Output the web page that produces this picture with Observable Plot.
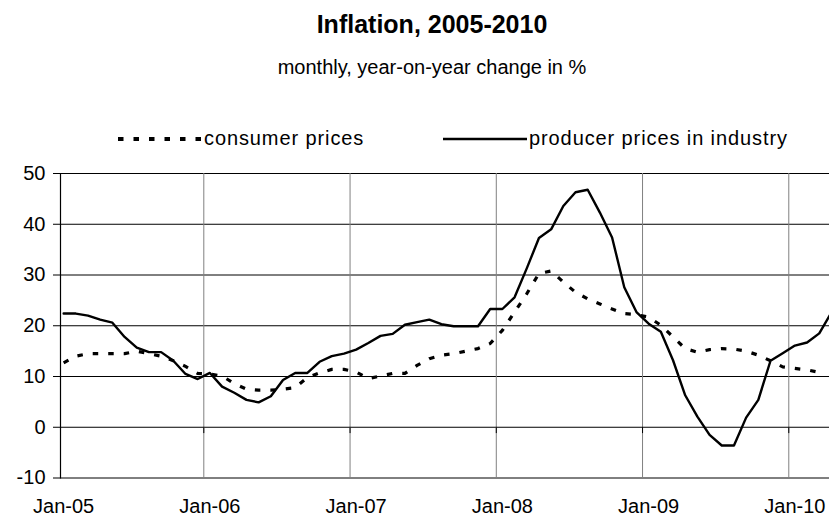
<!DOCTYPE html>
<html>
<head>
<meta charset="utf-8">
<script src="https://cdn.jsdelivr.net/npm/d3@7"></script>
<script src="https://cdn.jsdelivr.net/npm/@observablehq/plot@0.6"></script>
<style>
  html, body { margin: 0; padding: 0; background: #fff; }
  #wrap { position: relative; width: 829px; height: 518px; overflow: hidden; font-family: "Liberation Sans", Arial, sans-serif; color: #000; }
  .t { position: absolute; white-space: nowrap; line-height: 1; }
  #title { font-weight: bold; font-size: 25px; left: 432px; top: 12px; transform: translateX(-50%); }
  #subtitle { font-size: 20px; left: 432px; top: 57px; transform: translateX(-50%); }
  .leg { font-size: 20px; letter-spacing: 0.9px; top: 128px; }
  .sw { position: absolute; top: 133px; }
  #chart { position: absolute; left: 0; top: 150px; }
</style>
</head>
<body>
<div id="wrap">
  <div id="title" class="t">Inflation, 2005-2010</div>
  <div id="subtitle" class="t">monthly, year-on-year change in %</div>
  <svg class="sw" style="left:118px" width="86" height="12"><line x1="0" y1="6" x2="86" y2="6" stroke="#000" stroke-width="4" stroke-dasharray="5.5,10"/></svg>
  <div class="t leg" style="left:204px">consumer prices</div>
  <svg class="sw" style="left:443px" width="84" height="12"><line x1="0" y1="6" x2="84" y2="6" stroke="#000" stroke-width="2.5"/></svg>
  <div class="t leg" style="left:529px">producer prices in industry</div>
  <div id="chart"></div>
</div>
<script>
// Category-axis labels (one per January)
const yearLabels = ["Jan-05", "Jan-06", "Jan-07", "Jan-08", "Jan-09", "Jan-10"];
const yTicks = [-10, 0, 10, 20, 30, 40, 50];

// Consumer prices, year-on-year % (Jan-05 .. Mar-10)
const consumerPrices = [
  12.7, 14.0, 14.5, 14.5, 14.5, 14.5, 15.0, 14.5, 14.0, 13.1, 12.0, 10.6,
  10.5, 10.1, 8.6, 7.5, 7.3, 7.3, 7.5, 7.8, 9.8, 10.7, 11.4, 11.4,
  10.9, 9.6, 10.1, 10.6, 10.6, 12.2, 13.5, 14.2, 14.5, 15.0, 15.5, 16.5,
  19.1, 22.7, 26.3, 30.3, 30.8, 28.6, 26.6, 25.3, 24.3, 23.3, 22.4, 22.2,
  21.7, 20.1, 17.8, 15.5, 14.8, 15.3, 15.5, 15.4, 15.0, 14.2, 13.1, 11.9,
  11.6, 11.3, 10.8
];

// Producer prices in industry, year-on-year % (Jan-05 .. Apr-10)
const producerPrices = [
  22.4, 22.4, 22.0, 21.2, 20.6, 17.8, 15.7, 14.8, 14.8, 13.1, 10.5, 9.5,
  10.7, 8.0, 6.8, 5.4, 4.9, 6.1, 9.3, 10.7, 10.7, 12.9, 14.0, 14.5,
  15.3, 16.6, 18.0, 18.4, 20.2, 20.7, 21.2, 20.3, 19.9, 19.9, 19.9, 23.3,
  23.3, 25.6, 31.3, 37.3, 39.0, 43.6, 46.3, 46.8, 42.3, 37.4, 27.6, 22.7,
  20.4, 18.8, 13.2, 6.3, 2.1, -1.5, -3.6, -3.6, 1.9, 5.4, 13.1, 14.6,
  16.1, 16.7, 18.5, 22.6
];

const cpi = consumerPrices.map((v, i) => ({i, v}));
const ppi = producerPrices.map((v, i) => ({i, v}));
const labelIdx = yearLabels.map((d, k) => k * 12);
const gridIdx = [11.5, 23.5, 35.5, 47.5, 59.5];

const chart = Plot.plot({
  width: 829,
  height: 368,
  marginLeft: 60,
  marginRight: 0,
  marginTop: 23,
  marginBottom: 40.5,
  style: {fontFamily: "'Liberation Sans', Arial, sans-serif", fontSize: "20px", color: "#000", background: "#fff", overflow: "hidden"},
  x: {type: "linear", domain: [-0.258, 62.84]},
  y: {domain: [-10, 50]},
  marks: [
    Plot.ruleY(yTicks, {stroke: "#000", strokeWidth: 1}),
    Plot.ruleX(gridIdx, {y1: -10, y2: 50, stroke: "#808080", strokeWidth: 1}),
    Plot.ruleX(gridIdx, {y1: 0, y2: -1.25, stroke: "#000", strokeWidth: 1}),
    Plot.frame({anchor: "left", stroke: "#000", strokeWidth: 1.2}),
    Plot.axisY(yTicks, {tickSize: 7, tickPadding: 8, tickFormat: d => String(d), label: null, fontSize: 20, stroke: "#000"}),
    Plot.axisX(labelIdx, {tickSize: 0, tickPadding: 21, tickFormat: d => yearLabels[d / 12], label: null, fontSize: 20, style: "letter-spacing:0.6px"}),
    Plot.line(cpi, {x: "i", y: "v", stroke: "#000", strokeWidth: 3.2, strokeDasharray: "5.5,10", strokeLinecap: "butt", clip: true}),
    Plot.line(ppi, {x: "i", y: "v", stroke: "#000", strokeWidth: 2.4, clip: true})
  ]
});
document.getElementById("chart").appendChild(chart);
</script>
</body>
</html>
